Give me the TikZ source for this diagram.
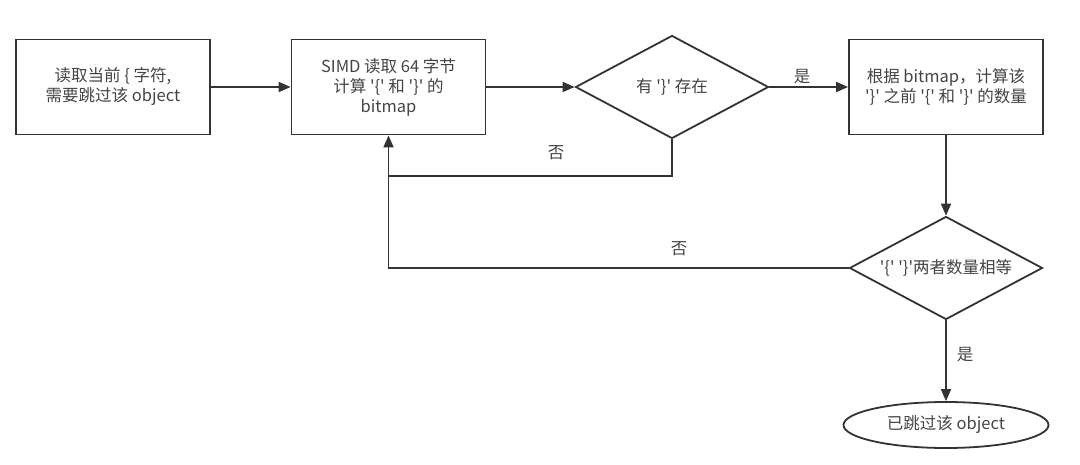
\documentclass[tikz,border=0pt]{standalone}
\usepackage{fontspec}
\newfontfamily\cjk{Noto Sans CJK SC}
\usetikzlibrary{shapes.geometric,arrows.meta}
\definecolor{ln}{HTML}{333333}
\definecolor{tx}{HTML}{444444}
\tikzset{
  base/.style={draw=ln, line width=1.8pt, text=tx, font=\cjk\fontsize{16.5}{20}\selectfont, align=center, inner sep=0pt},
  procbox/.style={base, rectangle, minimum width=194pt, minimum height=95pt},
  decide/.style={base, diamond, aspect=1.87, minimum width=193pt, minimum height=103pt},
  term/.style={base, ellipse, minimum width=205pt, minimum height=46pt},
  conn/.style={draw=ln, line width=1.8pt, -{Triangle[length=12pt,width=10pt]}},
  plain/.style={draw=ln, line width=1.8pt},
  lbl/.style={text=tx, font=\cjk\fontsize{16.5}{18}\selectfont, inner sep=0pt}
}
\begin{document}
\begin{tikzpicture}[x=1pt,y=-1pt]
\useasboundingbox (0,0) rectangle (1080,465);
\node[procbox] (b1) at (113,87) {读取当前 \{ 字符,\\需要跳过该 object};
\node[procbox] (b2) at (388.5,87) {SIMD 读取 64 字节\\计算 '\{' 和 '\}' 的\\bitmap};
\node[decide] (d1) at (672,87) {有 '\}' 存在};
\node[procbox] (b3) at (946,87) {根据 bitmap，计算该\\'\}' 之前 '\{' 和 '\}' 的数量};
\node[decide] (d2) at (946,268) {'\{' '\}'两者数量相等};
\node[term] (e) at (946,425) {已跳过该 object};
\coordinate (c1) at (672,176);
\coordinate (c2) at (388.5,176);
\coordinate (c3) at (388.5,268);
\draw[conn] (b1) -- (b2);
\draw[conn] (b2) -- (d1);
\draw[conn] (d1) -- (b3);
\draw[conn] (d1.south) -- (c1) -- (c2) -- (b2.south);
\draw[conn] (b3) -- (d2);
\draw[plain] (d2.west) -- (c3) -- (c2);
\draw[conn] (d2) -- (e);
\node[lbl] (l1) at (802,77) {是};
\node[lbl] (l2) at (556,153) {否};
\node[lbl] (l3) at (679,249) {否};
\node[lbl] (l4) at (965,355) {是};
\end{tikzpicture}
\end{document}
